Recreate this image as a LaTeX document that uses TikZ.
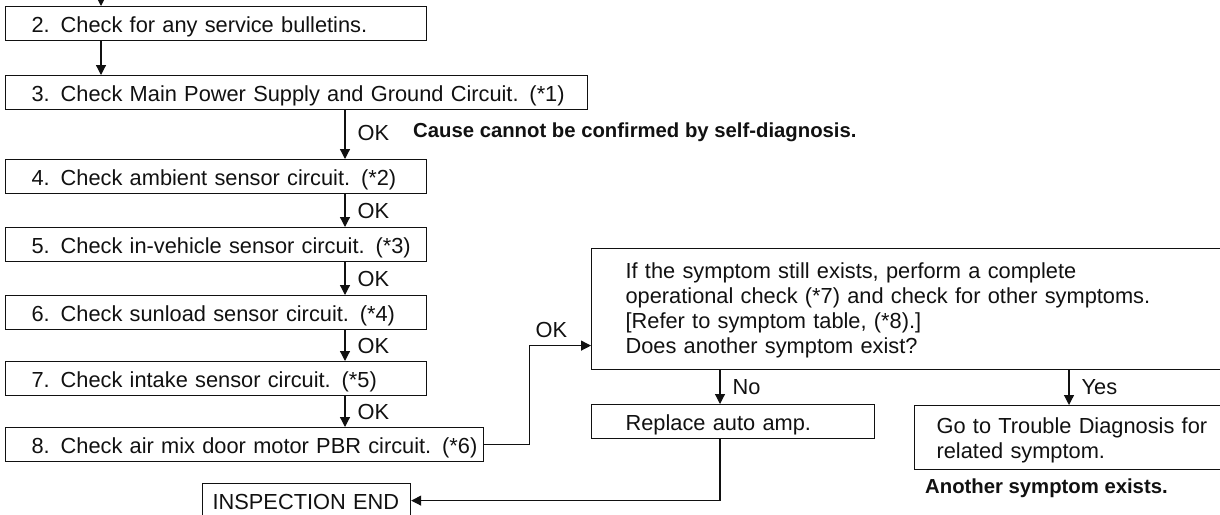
\documentclass[tikz,border=0pt]{standalone}
\usepackage{fontspec}
\setmainfont{Liberation Sans}
\usepackage{tikz}
\usetikzlibrary{positioning,arrows.meta,calc}
\definecolor{ink}{HTML}{111111}
\newcommand{\stepfont}{\fontsize{21.8}{25}\selectfont}
\newcommand{\notefont}{\fontsize{20.3}{24}\selectfont\bfseries}
\tikzset{
  lpad/.style    ={execute at begin node={\leftskip=#1}},
  stepbox/.style ={draw=ink, line width=1.2pt, inner sep=0pt, anchor=north west,
                   minimum height=34pt, text width=#1, align=left, font=\stepfont,
                   text=ink, lpad=26pt, text height=17.6pt, text depth=0pt},
  tallbox/.style ={stepbox=#1, text height=16pt},
  oklab/.style   ={font=\stepfont, text=ink, inner sep=0pt},
  bnote/.style   ={font=\notefont, text=ink, inner sep=0pt, anchor=west},
  flow/.style    ={-{Triangle[length=10pt,width=10pt]}, line width=1.2pt, draw=ink},
}

\begin{document}
\begin{tikzpicture}[x=1pt, y=-1pt]
  \path[use as bounding box] (0,0) rectangle (1220,514);
  \clip (0,0) rectangle (1220,514);
  \node[stepbox=421pt] (svc) at (5,6)   {2. Check for any service bulletins.};
  \node[stepbox=582pt] (pwr) at (5,75)  {3. Check Main Power Supply and Ground Circuit. (*1)};
  \node[stepbox=421pt] (amb) at (5,159) {4. Check ambient sensor circuit. (*2)};
  \node[stepbox=421pt] (inv) at (5,227) {5. Check in-vehicle sensor circuit. (*3)};
  \node[stepbox=421pt] (sun) at (5,295) {6. Check sunload sensor circuit. (*4)};
  \node[stepbox=421pt] (itk) at (5,361) {7. Check intake sensor circuit. (*5)};
  \node[stepbox=478pt] (amx) at (5,427) {8. Check air mix door motor PBR circuit. (*6)};
  \node[stepbox=208pt, lpad=10pt] (fin) at (202,483) {INSPECTION END};
  \node[tallbox=700pt, minimum height=121pt, text depth=77pt, lpad=34pt] (chk) at (591,248)
    {If the symptom still exists, perform a complete\\
     operational check (*7) and check for other symptoms.\\
     {}[Refer to symptom table, (*8).]\\
     Does another symptom exist?};
  \node[stepbox=283pt, lpad=34pt] (amp) at (591,404) {Replace auto amp.};
  \node[tallbox=400pt, minimum height=64pt, text depth=24pt, lpad=22pt] (trb) at (914,405)
    {Go to Trouble Diagnosis for\\related symptom.};
  \node[bnote] (cause) at (413,132) {Cause cannot be confirmed by self-diagnosis.};
  \node[bnote] (another) at (925,488) {Another symptom exists.};

  \coordinate (top) at (101,-4);
  \coordinate (spine) at (345,0);
  \coordinate (noX) at (720,0);
  \coordinate (yesX) at (1069,0);

  \draw[flow] (top) -- (top |- svc.north);
  \draw[flow] (top |- svc.south) -- (top |- pwr.north);
  \draw[flow] (spine |- pwr.south) -- node[oklab, right=12pt, yshift=2pt] (ok-amb) {OK} (spine |- amb.north);
  \foreach \a/\b in {amb/inv, inv/sun, sun/itk, itk/amx}
    \draw[flow] (spine |- \a.south) -- node[oklab, right=12pt] (ok-\b) {OK} (spine |- \b.north);
  \draw[flow] (amx.east) -- ++(45,0) |- node[oklab, above=7pt, pos=.68] (ok-chk) {OK}
    ([yshift=-36.5pt]chk.west);
  \draw[flow] (noX |- chk.south) -- node[oklab, right=12pt] (no) {No} (noX |- amp.north);
  \draw[flow] (yesX |- chk.south) -- node[oklab, right=12pt] (yes) {Yes} (yesX |- trb.north);
  \draw[flow] (noX |- amp.south) |- (fin.east);
\end{tikzpicture}
\end{document}
